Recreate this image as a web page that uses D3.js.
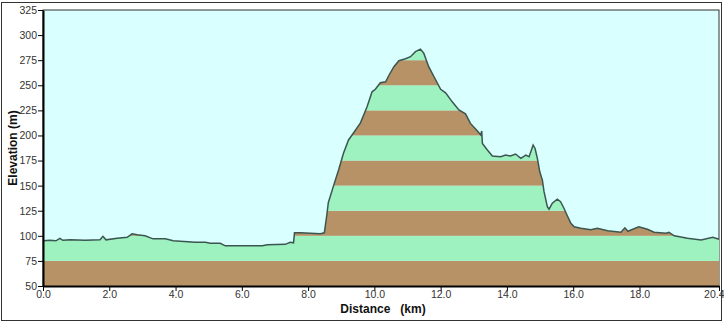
<!DOCTYPE html>
<html><head><meta charset="utf-8">
<script src="https://cdn.jsdelivr.net/npm/d3@7"></script>
<style>body{margin:0;background:#fff}svg{display:block}</style>
</head><body>
<script>
const distances = [0.00,0.21,0.39,0.51,0.60,0.82,1.27,1.72,1.81,1.90,2.24,2.54,2.69,2.84,3.08,3.32,3.69,3.93,4.14,4.38,4.59,4.90,5.05,5.35,5.50,6.10,6.62,6.77,7.31,7.46,7.56,7.59,7.77,8.07,8.37,8.49,8.57,8.61,8.76,8.92,9.07,9.22,9.37,9.58,9.78,9.93,10.03,10.18,10.34,10.44,10.59,10.74,10.94,11.09,11.24,11.39,11.49,11.64,11.80,12.00,12.15,12.35,12.55,12.75,12.90,13.11,13.21,13.24,13.26,13.41,13.56,13.81,13.96,14.11,14.26,14.42,14.57,14.67,14.79,14.85,14.92,14.99,15.07,15.12,15.22,15.27,15.37,15.52,15.62,15.72,15.83,15.93,16.03,16.23,16.53,16.73,17.04,17.44,17.56,17.65,17.98,18.24,18.44,18.80,18.89,19.05,19.45,19.86,20.21,20.40];
const elevations = [95,95.5,95,97.5,95.5,96,95.5,96,99.5,96,97.5,98.5,102,101,100,97,97,95,94.5,94,93.5,93.5,92.5,92.5,90,90,90,91,91.5,93.5,93,103,103,102.5,102,103,122,133,149,165.5,182.5,195.5,202.5,212.5,228.5,243.5,246,252.5,253.5,260,268.5,274.5,276.5,278.5,283.5,286,282,268.5,258.5,246,242.5,233.5,225.5,221.5,212,204.5,200.5,204.5,192,185.5,179.5,178.8,180.5,179.5,181.5,177.2,180.5,178.8,190.5,187,177,164,155.5,144,129,126.5,132.5,136.5,134,127.5,119.5,112.5,109,107.5,106,107.5,105,103.5,108,104.5,109,106.5,103.5,102.5,103.5,100,97.5,95.8,98.5,96.5];
const xTicks = [0,2,4,6,8,10,12,14,16,18,20.4];
const xTickLabels = ["0.0","2.0","4.0","6.0","8.0","10.0","12.0","14.0","16.0","18.0","20.4"];
const yTicks = [50,75,100,125,150,175,200,225,250,275,300,325];
const bandEdges = [50,75,100,125,150,175,200,225,250,275,300];

const W=724,H=324;
const m={l:43,r:719,t:10,b:286};
const svg=d3.select("body").append("svg").attr("width",W).attr("height",H);
svg.append("rect").attr("x",1.5).attr("y",2.5).attr("width",720).attr("height",318).attr("fill","#fff").attr("stroke","#333");
const x=d3.scaleLinear().domain([0,20.4]).range([m.l,m.r]);
const y=d3.scaleLinear().domain([50,325]).range([m.b,m.t]);
svg.append("rect").attr("x",m.l).attr("y",m.t).attr("width",m.r-m.l).attr("height",m.b-m.t).attr("fill","#d9ffff").attr("stroke","#333").attr("stroke-width",1);
const data=distances.map((d,i)=>({d,e:elevations[i]}));
const area=d3.area().x(p=>x(p.d)).y0(y(50)).y1(p=>y(p.e));
svg.append("clipPath").attr("id","cp").append("path").attr("d",area(data));
const g=svg.append("g").attr("clip-path","url(#cp)");
bandEdges.slice(0,-1).forEach((b,i)=>{
  g.append("rect").attr("x",m.l).attr("width",m.r-m.l).attr("y",y(bandEdges[i+1])).attr("height",y(b)-y(bandEdges[i+1]))
   .attr("fill",i%2===0?"#b79267":"#9ef2c0");
});
svg.append("path").attr("d",d3.line().x(p=>x(p.d)).y(p=>y(p.e))(data)).attr("fill","none").attr("stroke","#3b5650").attr("stroke-width",1.5);

const font="'Liberation Sans', Arial, sans-serif";
const yAxis=svg.append("g").attr("transform",`translate(${m.l},0)`).call(d3.axisLeft(y).tickValues(yTicks).tickSize(5).tickSizeOuter(0));
const xAxis=svg.append("g").attr("transform",`translate(0,${m.b})`).call(d3.axisBottom(x).tickValues(xTicks).tickFormat((d,i)=>xTickLabels[i]).tickSize(5).tickSizeOuter(0));
[yAxis,xAxis].forEach(a=>{
  a.select(".domain").attr("stroke","#000").attr("stroke-width",2);
  a.selectAll(".tick line").attr("stroke","#000");
  a.selectAll("text").attr("font-family",font).attr("font-size",10.5).attr("fill","#333");
});
yAxis.selectAll("text").attr("x",-6);
xAxis.selectAll("text").attr("y",5);
xAxis.selectAll("text").filter((d,i)=>i===xTicks.length-1).attr("text-anchor","end").attr("dx",5);
svg.append("text").attr("transform","translate(17,148) rotate(-90)").attr("text-anchor","middle")
  .attr("font-family",font).attr("font-size",12).attr("font-weight","bold").attr("fill","#111").text("Elevation (m)");
svg.append("text").attr("x",383).attr("y",313).attr("text-anchor","middle").attr("xml:space","preserve")
  .attr("font-family",font).attr("font-size",12).attr("font-weight","bold").attr("fill","#111").text("Distance   (km)");
</script>
</body></html>
